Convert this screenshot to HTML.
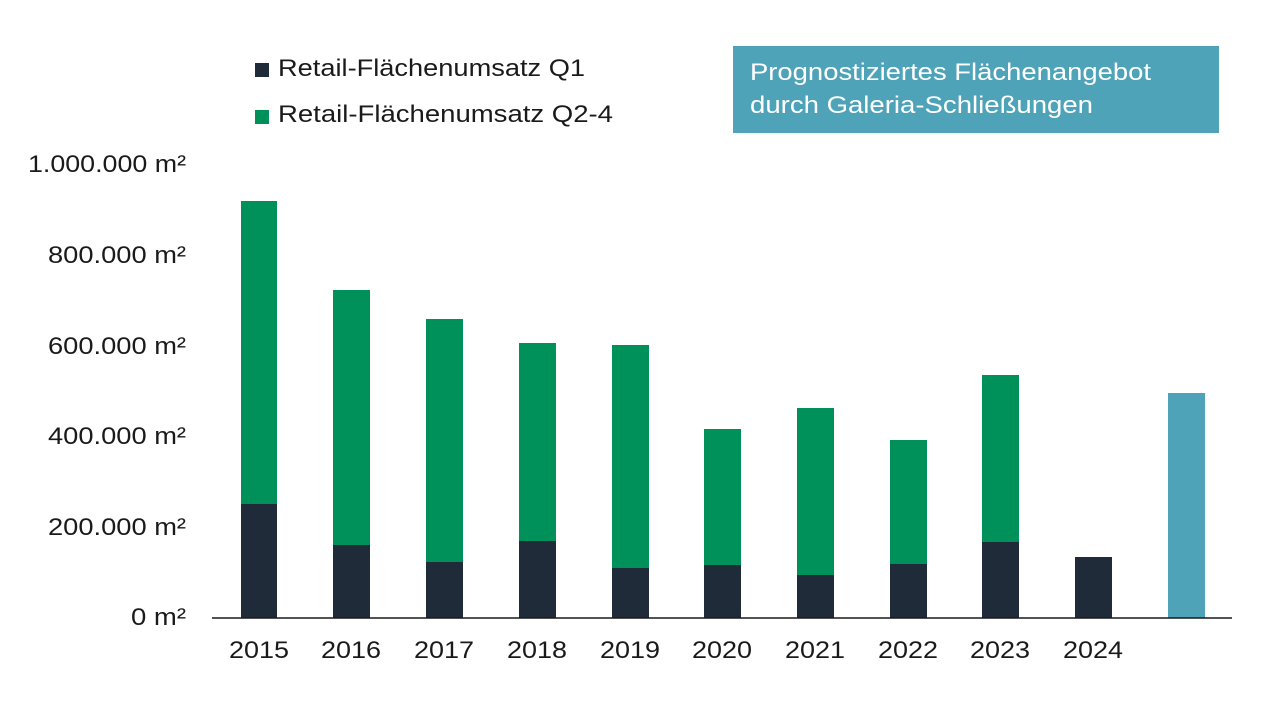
<!DOCTYPE html>
<html><head><meta charset="utf-8"><style>body{margin:0;background:#fff}svg{display:block}text{font-family:"Liberation Sans",sans-serif;fill:#1a1a1a}</style></head><body>
<svg width="1280" height="708" xmlns="http://www.w3.org/2000/svg">
<rect x="255" y="63" width="14" height="14" fill="#1f2b38"/>
<text x="278" y="76" font-size="24" textLength="307" lengthAdjust="spacingAndGlyphs">Retail-Flächenumsatz Q1</text>
<rect x="255" y="110" width="14" height="14" fill="#00915a"/>
<text x="278" y="122" font-size="24" textLength="335" lengthAdjust="spacingAndGlyphs">Retail-Flächenumsatz Q2-4</text>
<rect x="733" y="46" width="486" height="87" fill="#4ea3b8"/>
<text x="750" y="80" font-size="24" style="fill:#fff" textLength="401" lengthAdjust="spacingAndGlyphs">Prognostiziertes Flächenangebot</text>
<text x="750" y="113" font-size="24" style="fill:#fff" textLength="343" lengthAdjust="spacingAndGlyphs">durch Galeria-Schließungen</text>
<g font-size="24" text-anchor="end" lengthAdjust="spacingAndGlyphs">
<text x="186" y="172" textLength="158" lengthAdjust="spacingAndGlyphs">1.000.000 m²</text>
<text x="186" y="263" textLength="138" lengthAdjust="spacingAndGlyphs">800.000 m²</text>
<text x="186" y="354" textLength="138" lengthAdjust="spacingAndGlyphs">600.000 m²</text>
<text x="186" y="444" textLength="138" lengthAdjust="spacingAndGlyphs">400.000 m²</text>
<text x="186" y="535" textLength="138" lengthAdjust="spacingAndGlyphs">200.000 m²</text>
<text x="186" y="625" textLength="55" lengthAdjust="spacingAndGlyphs">0 m²</text>
</g>
<g fill="#00915a">
<rect x="241" y="201" width="36" height="417"/>
<rect x="333" y="290" width="37" height="328"/>
<rect x="426" y="319" width="37" height="299"/>
<rect x="519" y="343" width="37" height="275"/>
<rect x="612" y="345" width="37" height="273"/>
<rect x="704" y="429" width="37" height="189"/>
<rect x="797" y="408" width="37" height="210"/>
<rect x="890" y="440" width="37" height="178"/>
<rect x="982" y="375" width="37" height="243"/>
</g>
<g fill="#1f2b38">
<rect x="241" y="504" width="36" height="114"/>
<rect x="333" y="545" width="37" height="73"/>
<rect x="426" y="562" width="37" height="56"/>
<rect x="519" y="541" width="37" height="77"/>
<rect x="612" y="568" width="37" height="50"/>
<rect x="704" y="565" width="37" height="53"/>
<rect x="797" y="575" width="37" height="43"/>
<rect x="890" y="564" width="37" height="54"/>
<rect x="982" y="542" width="37" height="76"/>
<rect x="1075" y="557" width="37" height="61"/>
</g>
<rect x="1168" y="393" width="37" height="225" fill="#4ea3b8"/>
<line x1="212" y1="618" x2="1232" y2="618" stroke="#1a1a1a" stroke-width="1.5"/>
<g font-size="24" text-anchor="middle">
<text x="259" y="658" textLength="60" lengthAdjust="spacingAndGlyphs">2015</text><text x="351" y="658" textLength="60" lengthAdjust="spacingAndGlyphs">2016</text><text x="444" y="658" textLength="60" lengthAdjust="spacingAndGlyphs">2017</text><text x="537" y="658" textLength="60" lengthAdjust="spacingAndGlyphs">2018</text><text x="630" y="658" textLength="60" lengthAdjust="spacingAndGlyphs">2019</text><text x="722" y="658" textLength="60" lengthAdjust="spacingAndGlyphs">2020</text><text x="815" y="658" textLength="60" lengthAdjust="spacingAndGlyphs">2021</text><text x="908" y="658" textLength="60" lengthAdjust="spacingAndGlyphs">2022</text><text x="1000" y="658" textLength="60" lengthAdjust="spacingAndGlyphs">2023</text><text x="1093" y="658" textLength="60" lengthAdjust="spacingAndGlyphs">2024</text>
</g>
</svg>
</body></html>
